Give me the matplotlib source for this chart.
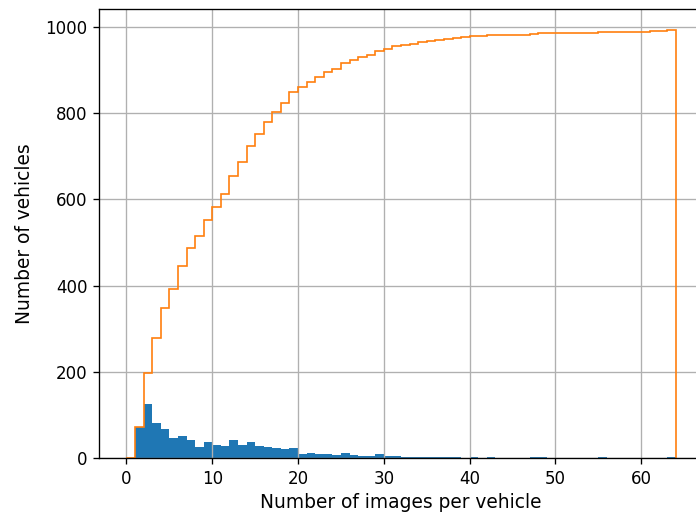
import numpy as np
import matplotlib
matplotlib.use("Agg")
import matplotlib.pyplot as plt

# vehicles per image count, one entry per bin [k, k+1)
bin_edges = np.arange(0, 65)
vehicle_counts = [
    0, 72, 125, 81, 69, 46, 52, 42, 27, 37,
    31, 29, 43, 32, 37, 29, 26, 24, 22, 25,
    11, 12, 11, 11, 8, 13, 8, 6, 6, 9,
    5, 5, 3, 3, 4, 2, 3, 2, 3, 1,
    3, 1, 2, 0, 0, 0, 0, 2, 3, 0,
    0, 0, 0, 0, 0, 2, 0, 0, 0, 0,
    0, 1, 0, 2,
]


def main():
    fig = plt.figure(figsize=(5.8, 518 / 120), dpi=120)
    ax = fig.add_axes([0.1422, 0.1152, 0.868, 0.8674])

    left = bin_edges[:-1]
    ax.hist(left, bins=bin_edges, weights=vehicle_counts)
    ax.hist(left, bins=bin_edges, weights=vehicle_counts,
            cumulative=True, histtype="step")

    ax.grid(True)
    ax.set_xlabel("Number of images per vehicle", fontsize=11.2, labelpad=3)
    ax.set_ylabel("Number of vehicles", fontsize=11.2, labelpad=7)

    fig.savefig("out.png", dpi=120)


if __name__ == "__main__":
    main()
